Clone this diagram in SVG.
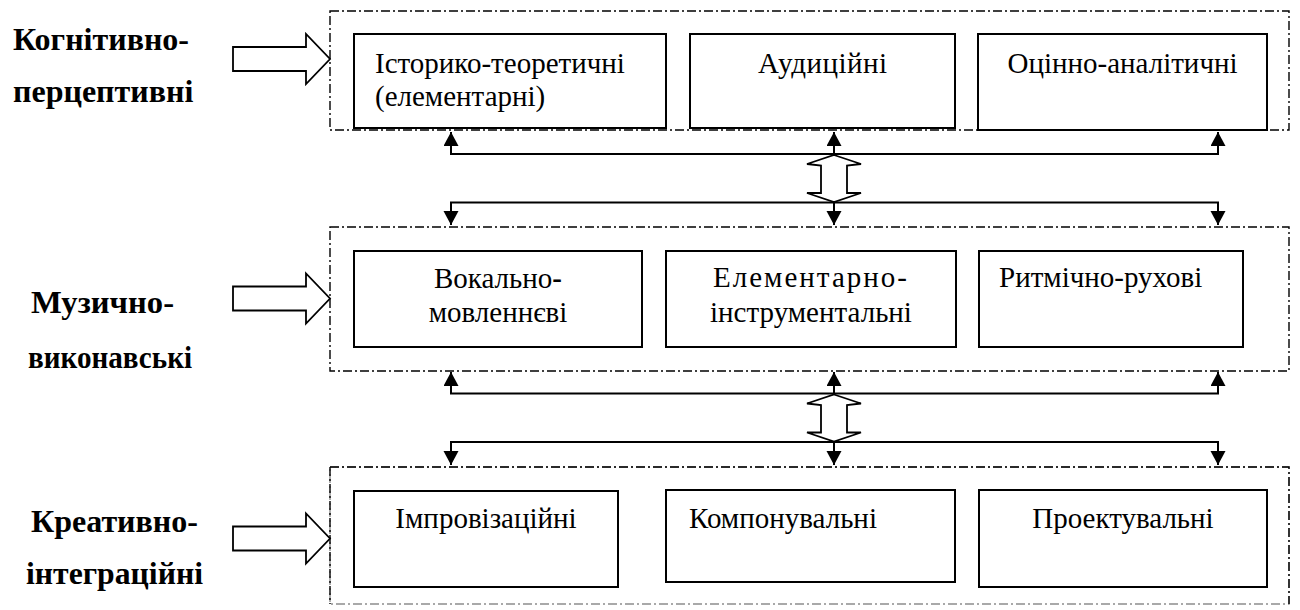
<svg xmlns="http://www.w3.org/2000/svg" width="1300" height="610" viewBox="0 0 1300 610">
<style>
.frame{fill:none;stroke:#000;stroke-width:1.4;stroke-dasharray:9 3 2 3}
.box{fill:#fff;stroke:#000;stroke-width:2}
.t{font-family:'Liberation Serif','DejaVu Serif',serif;font-size:29px;fill:#000}
.c{text-anchor:middle}
.lb{font-family:'Liberation Serif','DejaVu Serif',serif;font-size:32px;font-weight:bold;fill:#000}
.con{fill:none;stroke:#000;stroke-width:2}
.hol{fill:#fff;stroke:#000;stroke-width:1.8;stroke-linejoin:miter}
</style>
<defs>
<marker id="ah" markerUnits="userSpaceOnUse" markerWidth="16" markerHeight="16" refX="14" refY="7.5" orient="auto-start-reverse" viewBox="0 0 16 16">
<path d="M0,0 L14,7.5 L0,15 z" fill="#000"/>
</marker>
<polygon id="hright" points="233,-12 306,-12 306,-25 330,0 306,25 306,12 233,12"/>
<polygon id="hdouble" points="834,0 861,9 847,10.5 847,38 861,38 834,47 807,38 821,38 821,10.5 807,9"/>
</defs>

<g id="label-kognityvno">
<text class="lb" x="13" y="50">Когнітивно-</text>
<text class="lb" x="13" y="102">перцептивні</text>
</g>
<g id="label-muzychno">
<text class="lb" x="31" y="313" textLength="143" lengthAdjust="spacingAndGlyphs">Музично-</text>
<text class="lb" x="28" y="368" textLength="164" lengthAdjust="spacingAndGlyphs">виконавські</text>
</g>
<g id="label-kreatyvno">
<text class="lb" x="31" y="532">Креативно-</text>
<text class="lb" x="26" y="584" textLength="177" lengthAdjust="spacingAndGlyphs">інтеграційні</text>
</g>

<g id="frame-top"><rect class="frame" x="330" y="11" width="959" height="119"/></g>
<g id="frame-middle"><rect class="frame" x="330" y="227" width="959" height="144"/></g>
<g id="frame-bottom"><rect class="frame" x="330" y="467" width="959" height="137" stroke-opacity="0.45"/><path class="frame" d="M330,467 H1289 V604 M330,467 V604"/></g>

<g id="box-istoryko">
<rect class="box" x="354" y="34" width="312" height="94"/>
<text class="t" x="375" y="73">Історико-теоретичні</text>
<text class="t" x="375" y="106">(елементарні)</text>
</g>
<g id="box-audytsiini">
<rect class="box" x="690" y="34" width="265" height="94"/>
<text class="t" x="758" y="73" textLength="129" lengthAdjust="spacing">Аудиційні</text>
</g>
<g id="box-otsinno">
<rect class="box" x="978" y="34" width="289" height="96"/>
<text class="t c" x="1122.5" y="73">Оцінно-аналітичні</text>
</g>

<g id="box-vokalno">
<rect class="box" x="354" y="251" width="288" height="96"/>
<text class="t c" x="498" y="288">Вокально<tspan font-weight="bold">-</tspan></text>
<text class="t c" x="498" y="322">мовленнєві</text>
</g>
<g id="box-elementarno">
<rect class="box" x="666" y="251" width="290" height="96"/>
<text class="t" x="713" y="287" textLength="194" lengthAdjust="spacing">Елементарно-</text>
<text class="t c" x="811" y="322">інструментальні</text>
</g>
<g id="box-rytmichno">
<rect class="box" x="979" y="251" width="264" height="96"/>
<text class="t" x="999" y="287">Ритмічно-рухові</text>
</g>

<g id="box-improvizatsiini">
<rect class="box" x="354" y="491" width="264" height="96"/>
<text class="t c" x="486" y="528">Імпровізаційні</text>
</g>
<g id="box-komponuvalni">
<rect class="box" x="666" y="490" width="289" height="92"/>
<text class="t" x="689" y="528">Компонувальні</text>
</g>
<g id="box-proektuvalni">
<rect class="box" x="979" y="490" width="288" height="97"/>
<text class="t c" x="1123" y="528">Проектувальні</text>
</g>

<g id="connectors">
<use href="#hright" class="hol" transform="translate(0,59)"/>
<use href="#hright" class="hol" transform="translate(0,298.5)"/>
<use href="#hright" class="hol" transform="translate(0,538.5)"/>

<path class="con" d="M451,132 V154 H1218 V132" marker-start="url(#ah)" marker-end="url(#ah)"/>
<path class="con" d="M834,154 V132" marker-end="url(#ah)"/>
<path class="con" d="M451,225 V202.5 H1218 V225" marker-start="url(#ah)" marker-end="url(#ah)"/>
<path class="con" d="M834,202.5 V225" marker-end="url(#ah)"/>
<use href="#hdouble" class="hol" transform="translate(0,155)"/>

<path class="con" d="M451,372 V393.5 H1218 V372" marker-start="url(#ah)" marker-end="url(#ah)"/>
<path class="con" d="M834,393.5 V372" marker-end="url(#ah)"/>
<path class="con" d="M451,465 V442 H1218 V465" marker-start="url(#ah)" marker-end="url(#ah)"/>
<path class="con" d="M834,442 V465" marker-end="url(#ah)"/>
<use href="#hdouble" class="hol" transform="translate(0,394.5)"/>
</g>
</svg>
